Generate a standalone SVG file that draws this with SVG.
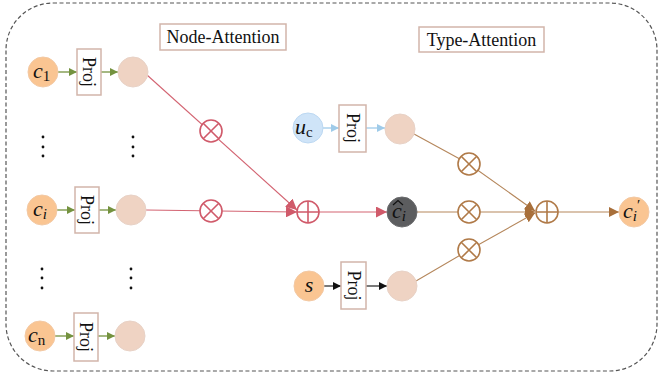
<svg xmlns="http://www.w3.org/2000/svg" width="658" height="377" viewBox="0 0 658 377">
<defs>
<style>
.frame{fill:none;stroke:#555;stroke-width:1.2;stroke-dasharray:4 2.5}
.in{fill:#fac592;stroke:#f3c9a4;stroke-width:1}
.blue{fill:#cfe4f8;stroke:#bcd8f2;stroke-width:1}
.out{fill:#efd3c3;stroke:#e8d2c6;stroke-width:1}
.dark{fill:#5c5d5f;stroke:#6a6b6d;stroke-width:1}
.proj{fill:#fff;stroke:#d2b5aa;stroke-width:1.5}
.lbl{fill:#fff;stroke:#d2b5aa;stroke-width:1.5}
.t{font-family:"Liberation Serif","Times New Roman",serif;fill:#111}
.m{font-family:"Liberation Serif","Times New Roman",serif;font-style:italic;fill:#111}
.g{stroke:#74923f;stroke-width:1.3;fill:none}
.b{stroke:#9fcbe9;stroke-width:1.3;fill:none}
.k{stroke:#222;stroke-width:1.2;fill:none}
.r{stroke:#d36472;stroke-width:1.1;fill:none}
.br{stroke:#b5875c;stroke-width:1.1;fill:none}
.ox{fill:#fff;stroke-width:1.6}
.dot{fill:#111}
</style>
<marker id="ag" viewBox="0 0 10 10" refX="10" refY="5" markerWidth="8" markerHeight="8" markerUnits="userSpaceOnUse" orient="auto"><path d="M0,0L10,5L0,10z" fill="#74923f"/></marker>
<marker id="ab" viewBox="0 0 10 10" refX="10" refY="5" markerWidth="8" markerHeight="8" markerUnits="userSpaceOnUse" orient="auto"><path d="M0,0L10,5L0,10z" fill="#9fcbe9"/></marker>
<marker id="ak" viewBox="0 0 10 10" refX="10" refY="5" markerWidth="8" markerHeight="8" markerUnits="userSpaceOnUse" orient="auto"><path d="M0,0L10,5L0,10z" fill="#111"/></marker>
<marker id="ar" viewBox="0 0 10 10" refX="10" refY="5" markerWidth="11" markerHeight="11" markerUnits="userSpaceOnUse" orient="auto"><path d="M0,0L10,5L0,10z" fill="#d05a6a"/></marker>
<marker id="abr" viewBox="0 0 10 10" refX="10" refY="5" markerWidth="10" markerHeight="10" markerUnits="userSpaceOnUse" orient="auto"><path d="M0,0L10,5L0,10z" fill="#a86f3a"/></marker>
</defs>
<rect class="frame" x="6" y="3" width="651" height="368" rx="47" ry="47"/>

<g id="connectors">
<line class="g" x1="58" y1="72" x2="77" y2="72" marker-end="url(#ag)"/>
<line class="g" x1="101" y1="72" x2="118" y2="72" marker-end="url(#ag)"/>
<line class="g" x1="57" y1="210" x2="75" y2="210" marker-end="url(#ag)"/>
<line class="g" x1="99" y1="210" x2="116" y2="210" marker-end="url(#ag)"/>
<line class="g" x1="55" y1="336" x2="74" y2="336" marker-end="url(#ag)"/>
<line class="g" x1="98" y1="336" x2="115" y2="336" marker-end="url(#ag)"/>
<line class="r" x1="147" y1="75" x2="297" y2="210" marker-end="url(#ar)"/>
<line class="r" x1="146" y1="210" x2="297" y2="212" marker-end="url(#ar)"/>
<line class="r" x1="319" y1="212" x2="387" y2="212" marker-end="url(#ar)"/>
<line class="b" x1="323" y1="128" x2="339" y2="128" marker-end="url(#ab)"/>
<line class="b" x1="366" y1="128" x2="385" y2="128" marker-end="url(#ab)"/>
<line class="k" x1="324" y1="286" x2="341" y2="286" marker-end="url(#ak)"/>
<line class="k" x1="366" y1="286" x2="387" y2="286" marker-end="url(#ak)"/>
<polyline class="br" points="414,134 469,164 535,211" marker-end="url(#abr)"/>
<line class="br" x1="417" y1="212" x2="535" y2="212" marker-end="url(#abr)"/>
<polyline class="br" points="416,281 469,250 535,213" marker-end="url(#abr)"/>
<line class="br" x1="558" y1="212" x2="619" y2="212" marker-end="url(#abr)"/>
</g>

<g id="label-node-attention">
<rect class="lbl" x="160" y="24" width="126" height="26"/>
<text class="t" x="223" y="43" font-size="18" text-anchor="middle">Node-Attention</text>
</g>
<g id="label-type-attention">
<rect class="lbl" x="419" y="27" width="125" height="25"/>
<text class="t" x="481.5" y="46" font-size="18" text-anchor="middle">Type-Attention</text>
</g>

<g id="c1"><circle class="in" cx="43" cy="72" r="15"/><text class="m" x="33" y="78" font-size="22">c<tspan font-style="normal" font-size="15" dy="3">1</tspan></text></g>
<g id="proj1"><rect class="proj" x="77" y="49" width="24" height="46"/><text class="t" transform="translate(89,72) rotate(90)" x="0" y="6" font-size="18" text-anchor="middle">Proj</text></g>
<g id="h1"><circle class="out" cx="133" cy="72" r="15"/></g>

<g id="dots-top"><circle class="dot" cx="43" cy="137" r="1.4"/><circle class="dot" cx="43" cy="147" r="1.4"/><circle class="dot" cx="43" cy="156" r="1.4"/><circle class="dot" cx="133" cy="137" r="1.4"/><circle class="dot" cx="133" cy="147" r="1.4"/><circle class="dot" cx="133" cy="156" r="1.4"/></g>

<g id="ci"><circle class="in" cx="42" cy="210" r="15"/><text class="m" x="33" y="216" font-size="22">c<tspan font-size="15" dy="3">i</tspan></text></g>
<g id="proji"><rect class="proj" x="75" y="187" width="24" height="46"/><text class="t" transform="translate(87,210) rotate(90)" x="0" y="6" font-size="18" text-anchor="middle">Proj</text></g>
<g id="hi"><circle class="out" cx="131" cy="210" r="15"/></g>

<g id="dots-bottom"><circle class="dot" cx="42" cy="269" r="1.4"/><circle class="dot" cx="42" cy="278" r="1.4"/><circle class="dot" cx="42" cy="288" r="1.4"/><circle class="dot" cx="131" cy="269" r="1.4"/><circle class="dot" cx="131" cy="278" r="1.4"/><circle class="dot" cx="131" cy="288" r="1.4"/></g>

<g id="cn"><circle class="in" cx="40" cy="336" r="15"/><text class="m" x="28" y="342" font-size="22">c<tspan font-style="normal" font-size="15" dy="3">n</tspan></text></g>
<g id="projn"><rect class="proj" x="74" y="313" width="24" height="48"/><text class="t" transform="translate(86,337) rotate(90)" x="0" y="6" font-size="18" text-anchor="middle">Proj</text></g>
<g id="hn"><circle class="out" cx="130" cy="336" r="15"/></g>

<g id="mul-1" stroke="#d05a6a"><circle class="ox" cx="211" cy="131" r="11"/><path d="M203.2,123.2L218.8,138.8M218.8,123.2L203.2,138.8" stroke-width="1.6"/></g>
<g id="mul-i" stroke="#d05a6a"><circle class="ox" cx="211" cy="211" r="11"/><path d="M203.2,203.2L218.8,218.8M218.8,203.2L203.2,218.8" stroke-width="1.6"/></g>
<g id="sum-node" stroke="#d05a6a"><circle class="ox" cx="308" cy="212" r="11"/><path d="M297,212H319M308,201V223" stroke-width="1.6"/></g>

<g id="uc"><circle class="blue" cx="308" cy="128" r="15"/><text class="m" x="295" y="134" font-size="22">u<tspan font-style="normal" font-size="15" dy="3">c</tspan></text></g>
<g id="projuc"><rect class="proj" x="339" y="105" width="27" height="47"/><text class="t" transform="translate(352.5,128) rotate(90)" x="0" y="6" font-size="18" text-anchor="middle">Proj</text></g>
<g id="hu"><circle class="out" cx="400" cy="129" r="15"/></g>

<g id="chat"><circle class="dark" cx="402" cy="212" r="15"/><text class="m" x="392" y="218" font-size="22">c<tspan font-size="15" dy="3">i</tspan></text><path d="M393,205L398,200.5L403,205" fill="none" stroke="#111" stroke-width="1.2"/></g>

<g id="s"><circle class="in" cx="309" cy="286" r="15"/><text class="m" x="309" y="292" font-size="22" text-anchor="middle">s</text></g>
<g id="projs"><rect class="proj" x="341" y="262" width="25" height="47"/><text class="t" transform="translate(353.5,285.5) rotate(90)" x="0" y="6" font-size="18" text-anchor="middle">Proj</text></g>
<g id="hs"><circle class="out" cx="402" cy="286" r="15"/></g>

<g id="mul-u" stroke="#b07a48"><circle class="ox" cx="469" cy="164" r="11"/><path d="M461.2,156.2L476.8,171.8M476.8,156.2L461.2,171.8" stroke-width="1.6"/></g>
<g id="mul-c" stroke="#b07a48"><circle class="ox" cx="469" cy="212" r="11"/><path d="M461.2,204.2L476.8,219.8M476.8,204.2L461.2,219.8" stroke-width="1.6"/></g>
<g id="mul-s" stroke="#b07a48"><circle class="ox" cx="469" cy="250" r="11"/><path d="M461.2,242.2L476.8,257.8M476.8,242.2L461.2,257.8" stroke-width="1.6"/></g>
<g id="sum-type" stroke="#b07a48"><circle class="ox" cx="547" cy="212" r="11"/><path d="M536,212H558M547,201V223" stroke-width="1.6"/></g>

<g id="cprime"><circle class="in" cx="634" cy="212" r="15"/><text class="m" x="623" y="218" font-size="22">c<tspan font-size="15" dy="3">i</tspan><tspan font-style="normal" font-size="15" dy="-11">′</tspan></text></g>
</svg>
